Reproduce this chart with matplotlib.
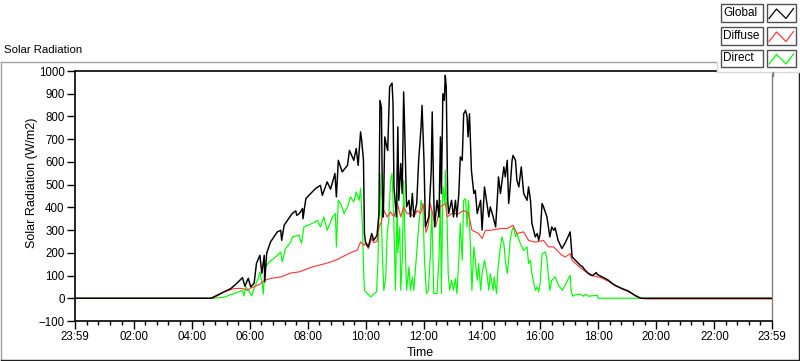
import matplotlib
matplotlib.use('Agg')
import matplotlib.pyplot as plt
from matplotlib.lines import Line2D
from matplotlib.patches import Rectangle

plt.rcParams['font.family'] = ['Liberation Sans', 'DejaVu Sans']
plt.rcParams['font.size'] = 8

# ---------------- data (time = minutes after 23:59 of previous day) ----------------
tick_minutes = [0, 121, 241, 361, 481, 601, 721, 841, 961, 1081, 1201, 1321, 1440]
tick_labels = ['23:59', '02:00', '04:00', '06:00', '08:00', '10:00', '12:00',
               '14:00', '16:00', '18:00', '20:00', '22:00', '23:59']
y_ticks = [-100, 0, 100, 200, 300, 400, 500, 600, 700, 800, 900, 1000]

global_t = [0, 281, 301, 322, 334, 346, 351, 358, 363, 370, 375, 382, 386, 391, 392, 396, 404, 418, 425, 427, 432, 446,
            449, 456, 458, 462, 466, 470, 471, 477, 487, 497, 507, 511, 521, 528, 537, 540, 544, 552, 563, 567, 576, 581,
            585, 590, 592, 596, 598, 600, 606, 613, 617, 624, 628, 630, 633, 635, 637, 640, 644, 646, 650, 655, 657, 659,
            664, 667, 669, 673, 676, 679, 681, 685, 690, 693, 697, 700, 706, 710, 715, 717, 721,
            724, 731, 736, 738, 741, 743, 748, 752, 755, 757, 760, 763, 765, 767, 770, 772, 778, 782, 786, 789, 793, 796,
            800, 803, 807, 810, 812, 815, 819, 824, 827, 831, 838, 841, 846, 851, 855,
            858, 864, 869, 872, 875, 879, 886, 889, 893, 896, 899, 903, 905, 910, 913, 917, 922, 927, 934, 937, 941, 944,
            951, 955, 958, 961, 965, 968, 975, 981, 985, 989,
            992, 998, 1006, 1013, 1020, 1023, 1027, 1034, 1044, 1048, 1054, 1061, 1069, 1077, 1079, 1089, 1095, 1102,
            1110, 1116, 1130, 1144, 1157, 1168, 1172, 1440]
global_v = [0, 0, 21, 43, 65, 91, 53, 88, 50, 66, 154, 189, 110, 189, 72, 198, 248, 292, 299, 255, 321, 365,
            373, 385, 365, 370, 380, 395, 350, 439, 461, 483, 497, 453, 512, 480, 549, 446, 607, 556, 585, 651, 607, 659,
            585, 732, 700, 607, 285, 248, 226, 285, 255, 277, 373, 871, 840, 461, 358, 710, 666, 651, 930, 947, 858, 490,
            358, 754, 431, 593, 461, 908, 754, 402, 431, 358, 461, 358, 417, 607, 754, 849, 607,
            314, 358, 563, 820, 461, 314, 431, 358, 710, 461, 900, 871, 981, 930, 431, 373, 431, 358, 431, 358, 461, 622,
            607, 812, 827, 798, 710, 812, 563, 461, 475, 373, 431, 300, 490, 417, 358,
            402, 358, 314, 417, 534, 461, 578, 534, 607, 417, 490, 607, 629, 607, 519, 490, 578, 461, 431, 490, 431, 329,
            270, 285, 255, 285, 417, 402, 358, 270, 314, 299,
            310, 255, 219, 245, 277, 292, 182, 167, 145, 140, 123, 109, 100, 113, 105, 94, 88, 79,
            65, 57, 43, 31, 13, 1, 0, 0]

diffuse_t = [0, 285, 308, 329, 346, 356, 363, 370, 384, 391, 404, 425, 446, 463, 490, 518, 538, 552, 573, 583,
             590, 597, 600, 606, 613, 617, 624, 628, 633, 638, 645, 652, 659, 666, 673, 679, 686, 693, 700, 707,
             714, 719, 723, 725, 730, 734, 745, 755, 765, 769, 779, 793, 803, 813, 820, 834, 841, 848, 858, 879,
             893, 905, 913, 927, 937, 948, 955, 968, 978, 989, 999, 1006, 1013, 1023, 1027, 1044, 1065, 1085, 1102, 1116,
             1130, 1144, 1157, 1168, 1180, 1440]
diffuse_v = [0, 0, 28, 43, 43, 35, 45, 50, 65, 79, 87, 94, 111, 116, 138, 153, 167, 182, 204, 211,
             248, 233, 241, 219, 263, 245, 250, 314, 336, 387, 358, 380, 358, 417, 358, 402, 373, 373, 358, 387,
             373, 417, 358, 290, 320, 417, 314, 402, 417, 358, 373, 373, 387, 373, 299, 285, 263, 299, 299, 307,
             307, 321, 285, 292, 255, 248, 248, 255, 226, 226, 204, 189, 182, 196, 167, 135, 101, 92, 75, 55,
             41, 29, 11, 0, -3, -3]

direct_t = [0, 281, 307, 329, 346, 349, 353, 362, 365, 370,
            377, 382, 387, 389, 391, 394, 401, 411, 425, 428,
            435, 446, 449, 463, 468, 473, 490, 501, 507, 514,
            521, 532, 538, 540, 544, 549, 556, 563, 569, 576,
            581, 587, 590, 594, 596, 598, 604, 611, 618, 623,
            626, 628, 630, 633, 635, 638, 642, 645, 648, 652,
            655, 659, 662, 666, 667, 671, 673, 676, 679, 681,
            685, 690, 693, 697, 700, 707, 710, 715, 719, 722,
            726, 730, 734, 737, 739, 741, 748, 752, 755, 757,
            760, 764, 765, 769, 771, 774, 778, 782, 786, 789,
            793, 796, 800, 803, 807, 810, 813, 817, 820, 824,
            827, 831, 834, 838, 841, 846, 851, 855, 858, 864,
            866, 871, 873, 877, 882, 886, 889, 893, 896, 899,
            903, 906, 910, 913, 920, 927, 934, 937, 941, 944,
            948, 951, 955, 958, 961, 965, 972, 975, 981, 985,
            992, 999, 1007, 1016, 1023, 1025, 1028, 1034, 1044, 1051,
            1054, 1061, 1079, 1081, 1440]
direct_v = [0, 0, 4, 21, 35, 10, 50, 22, 10, 43,
            79, 116, 60, 18, 94, 138, 160, 175, 204, 160,
            219, 248, 270, 277, 241, 314, 329, 343, 314, 358,
            299, 358, 373, 226, 431, 417, 373, 402, 446, 424,
            468, 431, 483, 314, 138, 35, 21, 6, 21, 28,
            167, 358, 549, 358, 196, 35, 94, 285, 343, 519,
            549, 314, 35, 461, 200, 314, 35, 167, 519, 314,
            35, 138, 35, 94, 35, 226, 314, 431, 387, 167,
            21, 35, 182, 387, 226, 21, 21, 182, 431, 21,
            490, 417, 563, 314, 109, 35, 79, 35, 87, 21,
            167, 329, 167, 431, 438, 314, 431, 226, 35, 226,
            167, 79, 153, 35, 109, 167, 109, 35, 109, 35,
            94, 21, 109, 196, 270, 241, 167, 109, 167, 255,
            299, 314, 270, 285, 241, 211, 226, 153, 167, 109,
            65, 35, 50, 28, 65, 196, 204, 167, 35, 79,
            94, 57, 35, 72, 101, 35, 9, 16, 18, 9,
            18, 9, 13, 0, 0]

series_names = ['Global', 'Diffuse', 'Direct']
series_colors = ['#000000', '#ff3c3c', '#00ff00']

# ---------------- figure ----------------
W, H = 800, 361
fig = plt.figure(figsize=(W / 100, H / 100), dpi=100)
fig.patch.set_facecolor('white')


def fx(px):
    return px / W


def fy(py):
    return 1 - py / H


ax = fig.add_axes([fx(75), fy(321), fx(772) - fx(75), fy(71) - fy(321)])
ax.set_facecolor('white')

ax.plot(direct_t, direct_v, color=series_colors[2], lw=0.85, zorder=2)
ax.plot(diffuse_t, diffuse_v, color=series_colors[1], lw=0.85, zorder=3)
ax.plot(global_t, global_v, color=series_colors[0], lw=1.05, zorder=4)

ax.set_xlim(0, 1440)
ax.set_ylim(-100, 1000)
ax.set_xticks(tick_minutes)
ax.set_xticklabels(tick_labels)
minor = []
for a, b in zip(tick_minutes[:-1], tick_minutes[1:]):
    for k in range(1, 5):
        minor.append(a + (b - a) * k / 5)
ax.set_xticks(minor, minor=True)
ax.set_yticks(y_ticks)
ax.tick_params(axis='both', which='major', length=6, width=1, color='black',
               labelsize=8.3, pad=1.5, direction='out')
ax.tick_params(axis='x', which='minor', length=3, width=1, color='black')

for s in ['left', 'bottom', 'top']:
    ax.spines[s].set_color('black')
    ax.spines[s].set_linewidth(1.2)
ax.spines['right'].set_color('#808080')
ax.spines['right'].set_linewidth(1.0)

# titles / labels
fig.text(fx(4), fy(50), 'Solar Radiation', fontsize=8.2, ha='left', va='center')
fig.text(fx(32), fy(183), 'Solar Radiation (W/m2)', fontsize=9, rotation=90, ha='center', va='center')
fig.text(fx(420), fy(353), 'Time', fontsize=9, ha='center', va='center')

# outer sunken frame
frame_gray = '#a0a0a0'
fig.add_artist(Line2D([fx(0.5), fx(717)], [fy(61.5), fy(61.5)], color=frame_gray, lw=1.0))
fig.add_artist(Line2D([fx(0.5), fx(0.5)], [fy(61.5), fy(360)], color=frame_gray, lw=1.0))
fig.add_artist(Line2D([fx(0.5), fx(798.5)], [fy(359.5), fy(359.5)], color='#202020', lw=1.0))
fig.add_artist(Line2D([fx(798.5), fx(798.5)], [fy(72), fy(359.5)], color='#202020', lw=1.0))

# legend panel
fig.add_artist(Rectangle((fx(717), fy(72)), fx(800) - fx(717), fy(0) - fy(72),
                         facecolor='white', edgecolor='none', zorder=5))
fig.add_artist(Line2D([fx(717), fx(717)], [fy(61.5), fy(72)], color='#d8d8d8', lw=1.0, zorder=6))
fig.add_artist(Line2D([fx(717), fx(800)], [fy(72), fy(72)], color='#d8d8d8', lw=1.0, zorder=6))
fig.add_artist(Line2D([fx(772.5), fx(772.5)], [fy(72), fy(76)], color='#808080', lw=1.0, zorder=6))

row_tops = [4, 27, 49.5]
row_h = 17.5
for name, col, top in zip(series_names, series_colors, row_tops):
    fig.add_artist(Rectangle((fx(721), fy(top + row_h)), fx(762.5) - fx(721), fy(top) - fy(top + row_h),
                             facecolor='white', edgecolor='#505050', lw=1.0, zorder=6))
    fig.text(fx(723.5), fy(top + row_h / 2), name, fontsize=8.5, ha='left', va='center', zorder=7)
    fig.add_artist(Rectangle((fx(767), fy(top + row_h)), fx(795.5) - fx(767), fy(top) - fy(top + row_h),
                             facecolor='white', edgecolor='#505050', lw=1.0, zorder=6))
    zx = [769, 776.5, 786, 793.5]
    zy = [top + 14.5, top + 5, top + 14.5, top + 4.5]
    fig.add_artist(Line2D([fx(v) for v in zx], [fy(v) for v in zy], color=col, lw=0.9, zorder=7))

fig.savefig('out.png', dpi=100, facecolor='white')
